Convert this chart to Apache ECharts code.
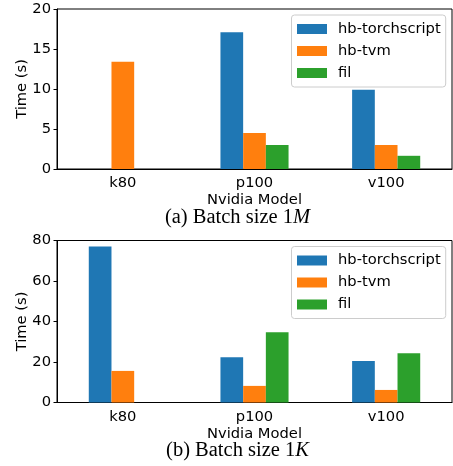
<!DOCTYPE html>
<html><head><meta charset="utf-8">
<script src="https://cdn.jsdelivr.net/npm/echarts@6/dist/echarts.min.js"></script>
<style>html,body{margin:0;padding:0;background:#fff}#c{width:453px;height:466px}</style>
</head><body><div id="c"></div>
<script>
const categories = ['k80', 'p100', 'v100'];
const seriesNames = ['hb-torchscript', 'hb-tvm', 'fil'];
const colors = ['#1f77b4', '#ff7f0e', '#2ca02c'];
// (a) Batch size 1M
const torchscript1M = [null, 17.1, 9.9];
const tvm1M = [13.4, 4.5, 3.0];
const fil1M = [null, 3.0, 1.65];
// (b) Batch size 1K
const torchscript1K = [77, 22.4, 20.5];
const tvm1K = [15.6, 8.2, 6.2];
const fil1K = [null, 34.7, 24.3];
const yTicks1M = {min: 0, max: 20, interval: 5};
const yTicks1K = {min: 0, max: 80, interval: 20};
const xLabel = 'Nvidia Model';
const yLabel = 'Time (s)';

const FONT = 'DejaVu Sans';
const FS = 14.7;
const chart = echarts.init(document.getElementById('c'), null, {renderer: 'canvas'});

function xAx(gi) {
  return {
    type: 'category', gridIndex: gi, data: categories,
    name: xLabel, nameLocation: 'middle', nameGap: 24, nameMoveOverlap: false,
    nameTextStyle: {fontFamily: FONT, fontSize: FS, color: '#000'},
    axisLine: {lineStyle: {color: '#000', width: 1}},
    axisTick: {alignWithLabel: true, length: 3.5, lineStyle: {color: '#000'}},
    axisLabel: {fontFamily: FONT, fontSize: FS, color: '#000', margin: 7},
    splitLine: {show: false}
  };
}
function yAx(gi, t) {
  return {
    type: 'value', gridIndex: gi, min: t.min, max: t.max, interval: t.interval,
    name: yLabel, nameLocation: 'middle', nameGap: 27, nameMoveOverlap: false,
    nameTextStyle: {fontFamily: FONT, fontSize: FS, color: '#000'},
    axisLine: {show: true, lineStyle: {color: '#000', width: 1}},
    axisTick: {show: true, length: 3.5, lineStyle: {color: '#000'}},
    axisLabel: {fontFamily: FONT, fontSize: FS, color: '#000', margin: 6},
    splitLine: {show: false}
  };
}
function legend(top) {
  return {
    data: seriesNames, orient: 'vertical', left: 291.5, top: top,
    itemWidth: 30, itemHeight: 10, itemGap: 6,
    padding: [6, 5, 6, 5.5],
    borderColor: '#ccc', borderWidth: 1, borderRadius: 3,
    backgroundColor: 'rgba(255,255,255,0.8)',
    icon: 'rect',
    textStyle: {fontFamily: FONT, fontSize: FS, color: '#000', padding: [0, 0, 0, 6], lineHeight: 16}
  };
}
function bars(name, data, gi, ci) {
  return {
    type: 'bar', name: name, data: data, xAxisIndex: gi, yAxisIndex: gi,
    barWidth: 22.7, barGap: '0%', itemStyle: {color: colors[ci]}, animation: false
  };
}
function caption(label, letter, y) {
  return {type: 'text', x: 237.5, y: y, style: {
    text: label + '{i|' + letter + '}', textAlign: 'center', textVerticalAlign: 'middle',
    fontFamily: 'Liberation Serif', fontSize: 20.5, fill: '#000',
    rich: {i: {fontFamily: 'Liberation Serif', fontSize: 20.5, fontStyle: 'italic', fill: '#000'}}
  }};
}
chart.setOption({
  animation: false,
  grid: [
    {left: 57, right: 1, top: 9, height: 160, show: true, borderColor: '#000', borderWidth: 1},
    {left: 57, right: 1, top: 240.5, height: 162, show: true, borderColor: '#000', borderWidth: 1}
  ],
  xAxis: [xAx(0), xAx(1)],
  yAxis: [yAx(0, yTicks1M), yAx(1, yTicks1K)],
  legend: [legend(15), legend(246.5)],
  series: [
    bars(seriesNames[0], torchscript1M, 0, 0),
    bars(seriesNames[1], tvm1M, 0, 1),
    bars(seriesNames[2], fil1M, 0, 2),
    bars(seriesNames[0], torchscript1K, 1, 0),
    bars(seriesNames[1], tvm1K, 1, 1),
    bars(seriesNames[2], fil1K, 1, 2)
  ],
  graphic: [
    caption('(a) Batch size 1', 'M', 218),
    caption('(b) Batch size 1', 'K', 451)
  ]
});
</script></body></html>
